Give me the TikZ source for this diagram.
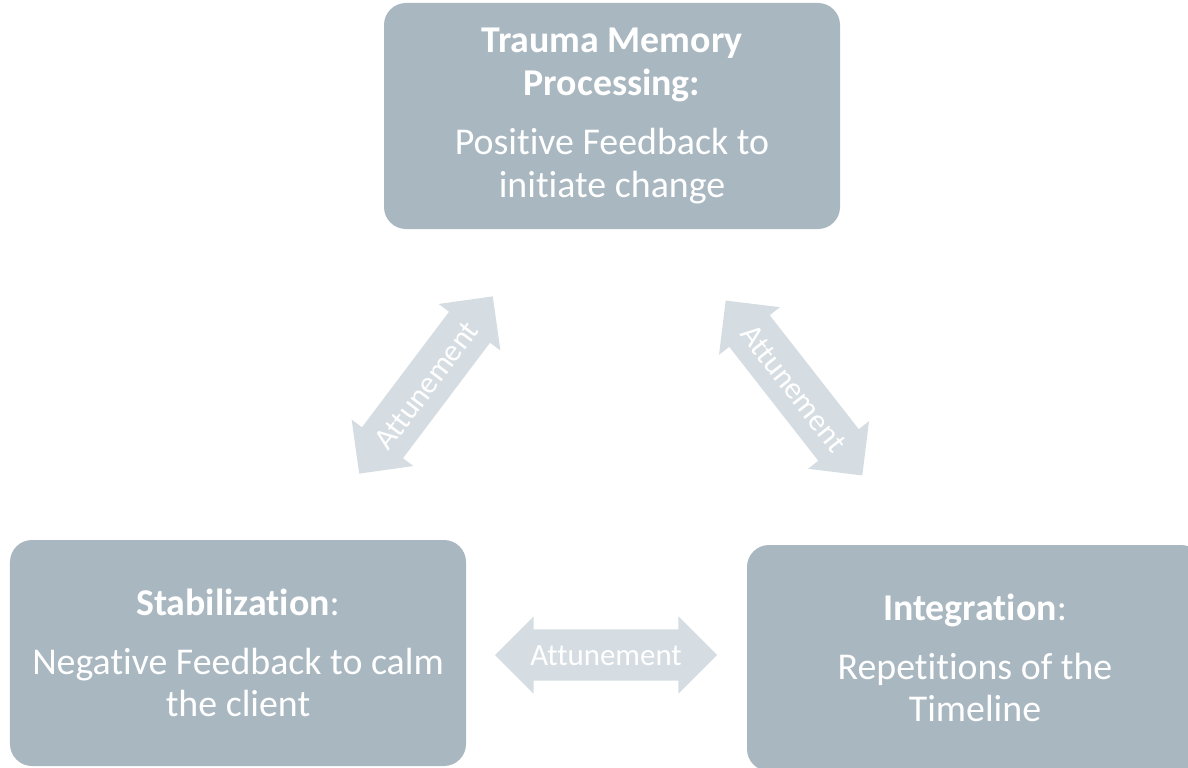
\documentclass[tikz,border=0pt]{standalone}
\usepackage{fontspec}
\setmainfont[Ligatures=NoCommon]{Carlito}
\usetikzlibrary{shapes.arrows}

\definecolor{boxgrey}{RGB}{169,183,192}
\definecolor{arrowgrey}{RGB}{214,221,226}

\tikzset{
  phase/.style={rectangle, rounded corners=22bp, fill=boxgrey, text=white,
    minimum width=456bp, minimum height=226bp, align=center,
    font=\fontsize{38}{43}\selectfont},
  tune/.style={double arrow, fill=arrowgrey, text=white,
    double arrow head extend=13bp, minimum height=222bp, minimum width=76bp,
    inner xsep=0pt, inner ysep=15bp, text height=21bp, text depth=0bp,
    font=\fontsize{31}{31}\selectfont},
}

\begin{document}
\begin{tikzpicture}[x=1bp, y=-1bp]
        \useasboundingbox (0,0) rectangle (1188,768);
        \clip (0,0) rectangle (1188,768);

        % the three phases
        \node[phase] (trauma) at (612,116) {\textbf{Trauma Memory}\\\textbf{Processing:}\\[16bp]Positive Feedback to\\initiate change};
        \node[phase] (stab) at (238,653) {\textbf{Stabilization}:\\[16bp]Negative Feedback to calm\\the client};
        \node[phase] (integ) at (975,658) {\textbf{Integration}:\\[16bp]Repetitions of the\\Timeline};

        % attunement between them
        \node[tune, rotate=53] (tuneleft) at (426,385) {Attunement};
        \node[tune, rotate=-52] (tuneright) at (794,388) {Attunement};
        \node[tune] (tunebottom) at (606,655) {Attunement};
\end{tikzpicture}
\end{document}
